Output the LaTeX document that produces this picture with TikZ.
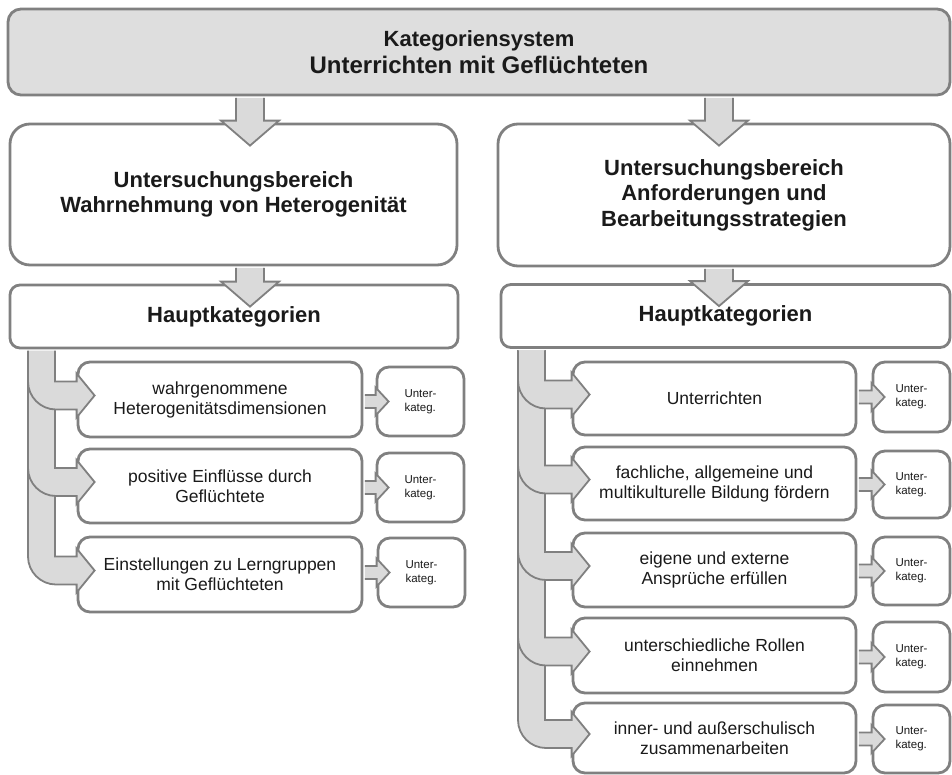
\documentclass[tikz,border=0pt]{standalone}
\usepackage{fontspec}
\setmainfont{Liberation Sans}
\usetikzlibrary{calc}
\definecolor{bordergray}{HTML}{808080}
\definecolor{topfill}{HTML}{DEDEDE}
\definecolor{arrowfill}{HTML}{DADADA}
\definecolor{txt}{HTML}{1A1A1A}
\tikzset{
  box/.style={draw=bordergray, line width=2.8pt, fill=white, rounded corners=12pt,
    text=txt, align=center, inner sep=0pt},
  topbox/.style={box, fill=topfill, rounded corners=13pt, font=\bfseries\fontsize{24}{27}\selectfont},
  areabox/.style={box, rounded corners=20pt, font=\bfseries\fontsize{22}{25.5}\selectfont},
  hkbox/.style={box, rounded corners=10pt, font=\bfseries\fontsize{22}{25.5}\selectfont},
  catbox/.style={box, font=\fontsize{17.5}{20}\selectfont, minimum width=284pt},
  subbox/.style={box, font=\fontsize{11.5}{14}\selectfont, align=left},
  blockarrow/.style={fill=arrowfill, draw=bordergray, line width=1.8pt, line join=miter},
}
% vertical block arrow from node #2 (south) to node #3 (north) at x = #1
\newcommand\downblock[3]{%
  \path[blockarrow] let \p1=(#2.south), \p2=(#3.north) in
    (#1pt+14pt,\y1-1.4pt) -- (#1pt+14pt,\y2+2pt) -- (#1pt+29pt,\y2+2pt)
    -- (#1pt,\y2-23pt) -- (#1pt-29pt,\y2+2pt) -- (#1pt-14pt,\y2+2pt)
    -- (#1pt-14pt,\y1-1.4pt);}
% bent block arrow from the trunk under node #2 to node #3, trunk outer edge at x = #1
\newcommand\branch[3]{%
  \path[blockarrow] let \p1=(#2.south), \p2=(#3.west) in
    (#1pt,\y1-1.4pt) -- (#1pt,\y2+18pt)
    .. controls (#1pt,\y2+2.6pt) and (#1pt+12.6pt,\y2-10pt) .. (#1pt+28pt,\y2-10pt)
    -- (\x2,\y2-10pt) -- (\x2,\y2-18pt) -- (\x2+18pt,\y2+4pt) -- (\x2,\y2+26pt)
    -- (\x2,\y2+18pt) -- (#1pt+27pt,\y2+18pt) -- (#1pt+27pt,\y1-1.4pt);}
% small block arrow from node #1 to node #2
\newcommand\smallblock[2]{%
  \path[blockarrow] let \p1=(#1.east), \p2=(#2.west) in
    (\x1+1.4pt,\y2+6.5pt) -- (\x2,\y2+6.5pt) -- (\x2,\y2+14pt) -- (\x2+13pt,\y2)
    -- (\x2,\y2-14pt) -- (\x2,\y2-6.5pt) -- (\x1+1.4pt,\y2-6.5pt);}
\begin{document}
\begin{tikzpicture}[x=1pt,y=-1pt]
\useasboundingbox[fill=white] (0,0) rectangle (952,774);

% boxes
\node[topbox, minimum width=942pt, minimum height=86pt] (top) at (479,52)
  {{\fontsize{22}{27}\selectfont Kategoriensystem}\\Unterrichten mit Geflüchteten};
\node[areabox, minimum width=447pt, minimum height=141pt] (ubL) at (233.5,194.5)
  {Untersuchungsbereich\\Wahrnehmung von Heterogenität};
\node[areabox, minimum width=452pt, minimum height=142pt] (ubR) at (724,195)
  {Untersuchungsbereich\\Anforderungen und\\Bearbeitungsstrategien};
\node[hkbox, minimum width=448pt, minimum height=63pt] (hkL) at (234,316.5) {Hauptkategorien};
\node[hkbox, minimum width=449pt, minimum height=63pt] (hkR) at (725.5,316) {Hauptkategorien};

% left categories
\node[catbox, minimum height=75pt] (cL1) at (220,399.5) {wahrgenommene\\Heterogenitätsdimensionen};
\node[catbox, minimum height=74pt] (cL2) at (220,486) {positive Einflüsse durch\\Geflüchtete};
\node[catbox, minimum height=75pt] (cL3) at (220,574.5) {Einstellungen zu Lerngruppen\\mit Geflüchteten};
\node[subbox, minimum width=87pt, minimum height=69pt] (sL1) at (420.5,401.5) {Unter-\\kateg.};
\node[subbox, minimum width=87pt, minimum height=69pt] (sL2) at (420.5,487.5) {Unter-\\kateg.};
\node[subbox, minimum width=87pt, minimum height=69pt] (sL3) at (421.5,572.5) {Unter-\\kateg.};

% right categories
\node[catbox, minimum width=283pt, minimum height=73pt] (cR1) at (714.5,398.5) {Unterrichten};
\node[catbox, minimum width=283pt, minimum height=73pt] (cR2) at (714.5,483.5) {fachliche, allgemeine und\\multikulturelle Bildung fördern};
\node[catbox, minimum width=283pt, minimum height=74pt] (cR3) at (714.5,570) {eigene und externe\\Ansprüche erfüllen};
\node[catbox, minimum width=283pt, minimum height=75pt] (cR4) at (714.5,655.5) {unterschiedliche Rollen\\einnehmen};
\node[catbox, minimum width=283pt, minimum height=70pt] (cR5) at (714.5,738) {inner- und außerschulisch\\zusammenarbeiten};
\node[subbox, minimum width=77pt, minimum height=70pt] (sR1) at (911.5,397) {Unter-\\kateg.};
\node[subbox, minimum width=77pt, minimum height=67pt] (sR2) at (911.5,484.5) {Unter-\\kateg.};
\node[subbox, minimum width=77pt, minimum height=68pt] (sR3) at (911.5,571) {Unter-\\kateg.};
\node[subbox, minimum width=77pt, minimum height=70pt] (sR4) at (911.5,657) {Unter-\\kateg.};
\node[subbox, minimum width=77pt, minimum height=68pt] (sR5) at (911.5,739) {Unter-\\kateg.};

% bent arrows (longest first)
\branch{28}{hkL}{cL3}
\branch{28}{hkL}{cL2}
\branch{28}{hkL}{cL1}
\branch{518}{hkR}{cR5}
\branch{518}{hkR}{cR4}
\branch{518}{hkR}{cR3}
\branch{518}{hkR}{cR2}
\branch{518}{hkR}{cR1}

% down arrows
\downblock{250}{top}{ubL}
\downblock{250}{ubL}{hkL}
\downblock{719}{top}{ubR}
\downblock{719}{ubR}{hkR}

% small arrows
\smallblock{cL1}{sL1}
\smallblock{cL2}{sL2}
\smallblock{cL3}{sL3}
\smallblock{cR1}{sR1}
\smallblock{cR2}{sR2}
\smallblock{cR3}{sR3}
\smallblock{cR4}{sR4}
\smallblock{cR5}{sR5}
\end{tikzpicture}
\end{document}
